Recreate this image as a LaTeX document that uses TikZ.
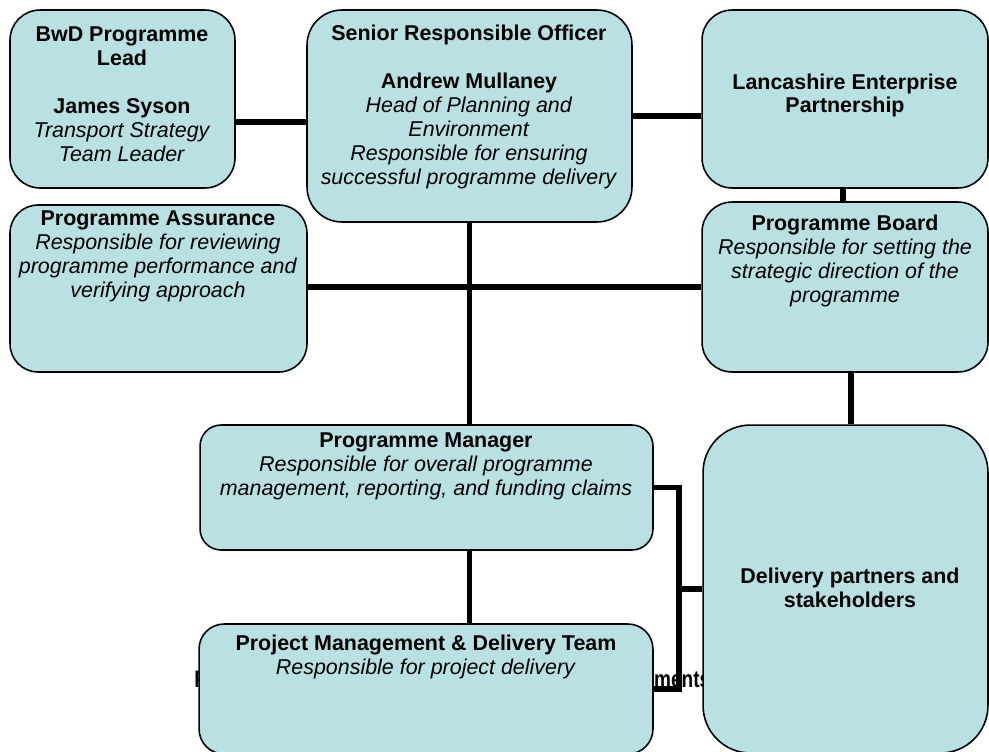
\documentclass[tikz,border=0pt]{standalone}
\usepackage{fontspec}
\setmainfont{Liberation Sans}
\usepackage{graphicx}
\usetikzlibrary{positioning}
\definecolor{boxfill}{HTML}{B9E0E3}

\begin{document}
\begin{tikzpicture}[x=0.02cm, y=-0.02cm,
    box/.style={draw, fill=boxfill, line width=0.9pt, rounded corners=#1, inner sep=0pt},
    box/.default=0.6cm,
    txt/.style={align=center, font=\fontsize{12.2}{13.6}\selectfont, inner sep=0pt},
    link/.style={line width=3.3pt}]
    \useasboundingbox (0,0) rectangle (989,751);

    % Title (mostly hidden behind the team box)
    \node[anchor=base west, inner sep=0pt, font=\fontsize{13.6}{16}\selectfont\bfseries] (title) at (194,687)
        {\resizebox{10.32cm}{\height}{Programme Governance and Management Arrangements}};

    % Boxes
    \node[box=0.6cm, minimum width=4.5cm, minimum height=3.56cm] (bwd) at (122.5,99) {};
    \node[box=0.7cm, minimum width=6.5cm, minimum height=4.24cm] (sro) at (469.5,116) {};
    \node[box=0.6cm, minimum width=5.72cm, minimum height=3.56cm] (lep) at (845,99) {};
    \node[box=0.6cm, minimum width=5.72cm, minimum height=3.4cm] (board) at (845,287) {};
    \node[box=0.56cm, minimum width=5.94cm, minimum height=3.34cm] (assur) at (158.5,288.5) {};
    \node[box=0.42cm, minimum width=9.06cm, minimum height=2.5cm] (pm) at (426.5,487.5) {};
    \node[box=0.5cm, minimum width=9.08cm, minimum height=2.6cm] (team) at (426,689) {};
    \node[box=0.95cm, minimum width=5.7cm, minimum height=6.56cm] (dp) at (845.5,589) {};

    % Texts
    \node[txt] (bwdtext) at (122,94) {\textbf{BwD Programme}\\\textbf{Lead}\\[13.6pt]\textbf{James Syson}\\\textit{Transport Strategy}\\\textit{Team Leader}};
    \node[txt] (srotext) at (469,107) {\textbf{Senior Responsible Officer}\\[13.6pt]\textbf{Andrew Mullaney}\\\textit{Head of Planning and}\\\textit{Environment}\\\textit{Responsible for ensuring}\\\textit{successful programme delivery}};
    \node[txt] (leptext) at (845,95.5) {\textbf{Lancashire Enterprise}\\\textbf{Partnership}};
    \node[txt] (boardtext) at (845,261) {\textbf{Programme Board}\\\textit{Responsible for setting the}\\\textit{strategic direction of the}\\\textit{programme}};
    \node[txt] (assurtext) at (158,256) {\textbf{Programme Assurance}\\\textit{Responsible for reviewing}\\\textit{programme performance and}\\\textit{verifying approach}};
    \node[txt] (pmtext) at (426,466) {\textbf{Programme Manager}\\\textit{Responsible for overall programme}\\\textit{management, reporting, and funding claims}};
    \node[txt] (teamtext) at (426,656.5) {\textbf{Project Management \& Delivery Team}\\\textit{Responsible for project delivery}};
    \node[txt] (dptext) at (850,588) {\textbf{Delivery partners and}\\\textbf{stakeholders}};

    % Connections
    \draw[link] ([yshift=-0.46cm]bwd.east) -- ([yshift=-0.46cm]bwd.east -| sro.west);
    \draw[link] (sro.east) -- (sro.east -| lep.west);
    \draw[link] ([xshift=-0.04cm]lep.south) -- ([xshift=-0.04cm]board.north);
    \draw[link] ([yshift=0.03cm]assur.east) -- ([yshift=0.03cm]assur.east -| board.west);
    \draw[link] (sro.south) -- (sro.south |- pm.north);
    \draw[link] (sro.south |- pm.south) -- (sro.south |- team.north);
    \draw[link] ([xshift=0.12cm]board.south) -- ([xshift=0.12cm]board.south |- dp.north);
    \coordinate (brk) at (679,589);
    \draw[link] (pm.east) -| (brk) |- (team.east);
    \draw[link] (brk) -- (dp.west);
\end{tikzpicture}
\end{document}
